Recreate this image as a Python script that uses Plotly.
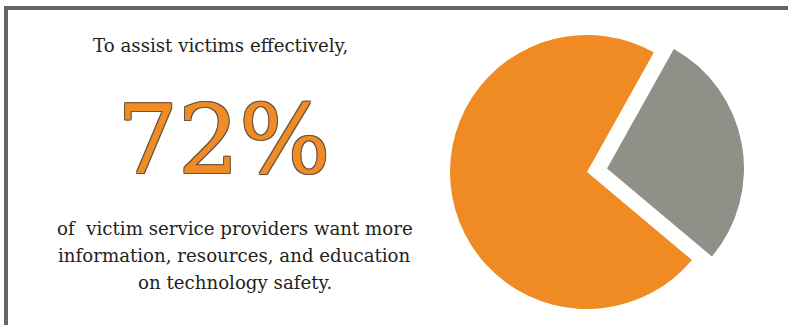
import plotly.graph_objects as go

labels = ["Want more information, resources, and education", "Other"]
values = [72, 28]
colors = ["#EF8B22", "#909088"]

headline = "To assist victims effectively,"
big_number = "72%"
body_lines = [
    "of\u00a0 victim service providers want more",
    "information, resources, and education",
    "on technology safety.",
]

W, H = 788, 325
fig = go.Figure()

def dom_x(cx, r):
    return [(cx - r) / W, (cx + r) / W]

def dom_y(cy, r):
    return [1 - (cy + r) / H, 1 - (cy - r) / H]

R = 137
# Main (orange) slice; the gray share is left transparent
fig.add_trace(go.Pie(
    labels=labels, values=values, sort=False, direction="clockwise", rotation=130,
    marker=dict(colors=[colors[0], "rgba(0,0,0,0)"], line=dict(width=0)),
    textinfo="none", hoverinfo="label+percent", showlegend=False,
    domain=dict(x=dom_x(587, R), y=dom_y(172, R)),
))
# Pulled-out (gray) slice; the orange share is left transparent
fig.add_trace(go.Pie(
    labels=labels, values=values, sort=False, direction="clockwise", rotation=130,
    marker=dict(colors=["rgba(0,0,0,0)", colors[1]], line=dict(width=0)),
    textinfo="none", hoverinfo="label+percent", showlegend=False,
    domain=dict(x=dom_x(607, R), y=dom_y(168.5, R)),
))

serif = "DejaVu Serif"
ann = []
ann.append(dict(text=headline, x=221 / W, y=1 - 46 / H, xref="paper", yref="paper",
                xanchor="center", yanchor="middle", showarrow=False,
                font=dict(family=serif, size=18.2, color="#231f20")))
ann.append(dict(text=big_number, x=223 / W, y=1 - 140 / H, xref="paper", yref="paper",
                xanchor="center", yanchor="middle", showarrow=False,
                font=dict(family=serif, size=96, color="#F08C25",
                          shadow="-1px -1px 0 #6a5440, 1px -1px 0 #6a5440, -1px 1px 0 #6a5440, 1px 1px 0 #6a5440")))
for i, line in enumerate(body_lines):
    ann.append(dict(text=line, x=235 / W, y=1 - (228 + 27 * i) / H, xref="paper", yref="paper",
                    xanchor="center", yanchor="middle", showarrow=False,
                    font=dict(family=serif, size=18.2, color="#231f20")))

shapes = [
    dict(type="line", xref="paper", yref="paper", x0=4 / W, x1=1, y0=1 - 8 / H, y1=1 - 8 / H,
         line=dict(color="#666666", width=4)),
    dict(type="line", xref="paper", yref="paper", x0=6 / W, x1=6 / W, y0=1 - 6 / H, y1=0,
         line=dict(color="#666666", width=4)),
]

fig.update_layout(
    width=W, height=H, margin=dict(l=0, r=0, t=0, b=0),
    paper_bgcolor="white", plot_bgcolor="white",
    annotations=ann, shapes=shapes, showlegend=False,
)
fig.write_html("out.html")
